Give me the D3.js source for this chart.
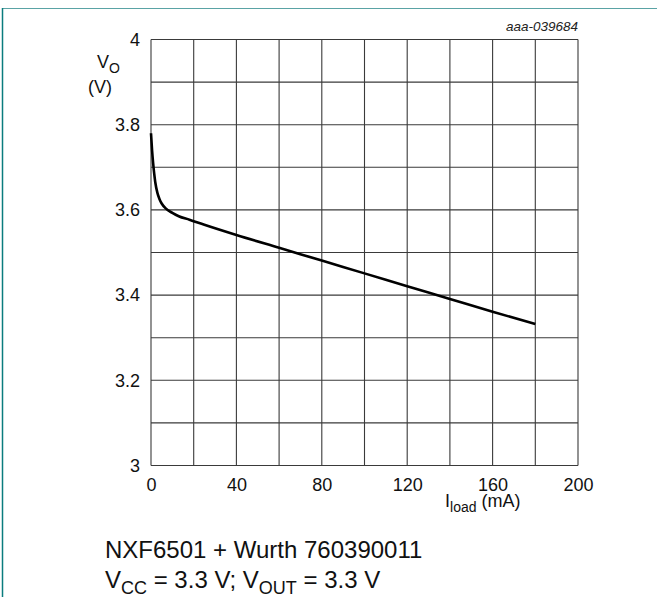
<!DOCTYPE html>
<html>
<head>
<meta charset="utf-8">
<script src="https://cdn.jsdelivr.net/npm/d3@7"></script>
<style>
  html, body { margin: 0; padding: 0; background: #fff; }
  svg { display: block; font-family: "Liberation Sans", Arial, sans-serif; }
</style>
</head>
<body>
<div id="chart"></div>
<script>
// Output voltage vs load current
const loadCurrent = [0, 0.5, 1, 1.5, 2, 3, 4, 5, 7, 10, 13, 18, 25, 40, 60, 80, 100, 120, 140, 160, 180];
const outVoltage = [3.78, 3.74, 3.71, 3.685, 3.665, 3.64, 3.625, 3.615, 3.603, 3.593, 3.585, 3.577, 3.565, 3.541, 3.511, 3.481, 3.451, 3.421, 3.391, 3.361, 3.332];
const xTicks = [0, 40, 80, 120, 160, 200];
const yTicks = [3, 3.2, 3.4, 3.6, 3.8, 4];

const width = 657, height = 597;
const plot = { left: 151, right: 578, top: 39.5, bottom: 465.5 };

const svg = d3.select('#chart').append('svg')
  .attr('width', width)
  .attr('height', height);

// frame (teal border, top and left)
svg.append('line')
  .attr('x1', 2).attr('y1', 8.5).attr('x2', width).attr('y2', 8.5)
  .attr('stroke', '#5aa3a5').attr('stroke-width', 1.2);
svg.append('line')
  .attr('x1', 2.5).attr('y1', 8).attr('x2', 2.5).attr('y2', height)
  .attr('stroke', '#0b7c7e').attr('stroke-width', 1.5);

const x = d3.scaleLinear().domain([0, 200]).range([plot.left, plot.right]);
const y = d3.scaleLinear().domain([3, 4]).range([plot.bottom, plot.top]);

// grid
const grid = svg.append('g');
grid.selectAll('.vx')
  .data(d3.range(0, 201, 20))
  .enter().append('line')
  .attr('x1', d => x(d)).attr('x2', d => x(d))
  .attr('y1', plot.top).attr('y2', plot.bottom)
  .attr('stroke', '#3a3a3a').attr('stroke-width', 1.1);
grid.selectAll('.hy')
  .data(d3.range(0, 11).map(i => 3 + i / 10))
  .enter().append('line')
  .attr('x1', plot.left).attr('x2', plot.right)
  .attr('y1', d => y(d)).attr('y2', d => y(d))
  .attr('stroke', '#3a3a3a').attr('stroke-width', 1.1);

// axes (labels only)
const xAxis = svg.append('g')
  .attr('transform', `translate(0,${plot.bottom})`)
  .call(d3.axisBottom(x).tickValues(xTicks).tickSize(0).tickPadding(13).tickFormat(d3.format('d')));
const yAxis = svg.append('g')
  .attr('transform', `translate(${plot.left},0)`)
  .call(d3.axisLeft(y).tickValues(yTicks).tickSize(0).tickPadding(11).tickFormat(d => d === 3 || d === 4 ? d3.format('d')(d) : d3.format('.1f')(d)));
[xAxis, yAxis].forEach(a => {
  a.select('.domain').remove();
  a.selectAll('text')
    .attr('font-family', '"Liberation Sans", Arial, sans-serif')
    .attr('font-size', 18)
    .attr('fill', '#111');
});

// curve
const line = d3.line()
  .x((d, i) => x(loadCurrent[i]))
  .y(d => y(d))
  .curve(d3.curveMonotoneX);
svg.append('path')
  .datum(outVoltage)
  .attr('d', line)
  .attr('fill', 'none')
  .attr('stroke', '#000')
  .attr('stroke-width', 2.6)
  .attr('stroke-linejoin', 'round');

// axis titles
const yt = svg.append('text').attr('x', 97).attr('y', 68).attr('font-size', 18).attr('fill', '#111');
yt.append('tspan').text('V');
yt.append('tspan').attr('dy', 5).attr('font-size', 14).text('O');
svg.append('text').attr('x', 88).attr('y', 93).attr('font-size', 18).attr('fill', '#111').text('(V)');

const xt = svg.append('text').attr('x', 445).attr('y', 507).attr('font-size', 18).attr('fill', '#111');
xt.append('tspan').text('I');
xt.append('tspan').attr('dy', 5).attr('font-size', 14).text('load');
xt.append('tspan').attr('dy', -5).text(' (mA)');

// figure id
svg.append('text')
  .attr('x', plot.right).attr('y', 31)
  .attr('text-anchor', 'end')
  .attr('font-size', 13.5).attr('font-style', 'italic').attr('fill', '#222')
  .text('aaa-039684');

// caption
svg.append('text').attr('x', 105).attr('y', 558).attr('font-size', 24).attr('fill', '#111')
  .text('NXF6501 + Wurth 760390011');
const cap = svg.append('text').attr('x', 105).attr('y', 588).attr('font-size', 24).attr('fill', '#111');
cap.append('tspan').text('V');
cap.append('tspan').attr('dy', 6).attr('font-size', 18).text('CC');
cap.append('tspan').attr('dy', -6).text(' = 3.3 V; V');
cap.append('tspan').attr('dy', 6).attr('font-size', 18).text('OUT');
cap.append('tspan').attr('dy', -6).text(' = 3.3 V');
</script>
</body>
</html>
